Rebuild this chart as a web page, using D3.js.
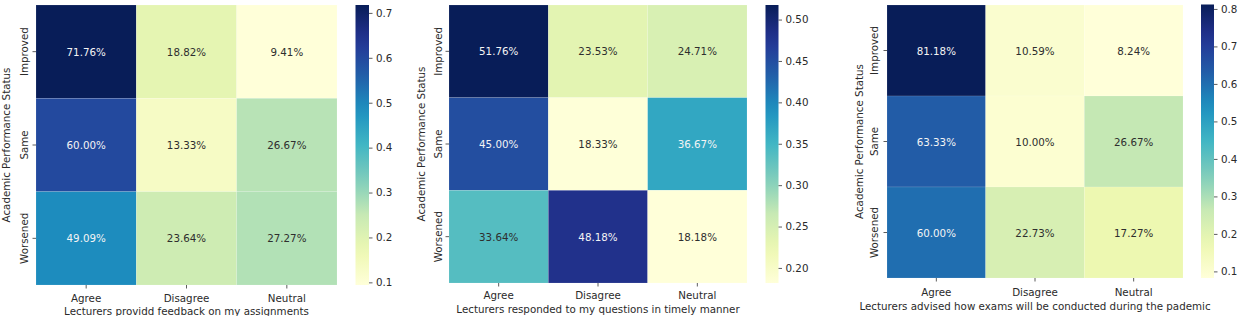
<!DOCTYPE html>
<html>
<head>
<meta charset="utf-8">
<script src="https://cdn.jsdelivr.net/npm/d3@7"></script>
<style>
  body { margin: 0; background: #fff; }
  text { font-family: "DejaVu Sans", sans-serif; }
</style>
</head>
<body>
<div id="chart"></div>
<script>
// data
const rowLabels = ["Improved", "Same", "Worsened"];
const colLabels = ["Agree", "Disagree", "Neutral"];

const feedbackPct = [[71.76, 18.82, 9.41], [60.00, 13.33, 26.67], [49.09, 23.64, 27.27]];
const respondedPct = [[51.76, 23.53, 24.71], [45.00, 18.33, 36.67], [33.64, 48.18, 18.18]];
const examsPct = [[81.18, 10.59, 8.24], [63.33, 10.00, 26.67], [60.00, 22.73, 17.27]];

const feedbackTicks = [0.1, 0.2, 0.3, 0.4, 0.5, 0.6, 0.7];
const respondedTicks = [0.20, 0.25, 0.30, 0.35, 0.40, 0.45, 0.50];
const examsTicks = [0.1, 0.2, 0.3, 0.4, 0.5, 0.6, 0.7, 0.8];

const yTitle = "Academic Performance Status";
const xTitles = [
    "Lecturers providd feedback on my assignments",
    "Lecturers responded to my questions in timely manner",
    "Lecturers advised how exams will be conducted during the pademic"
];

// matplotlib YlGnBu
const ylgnbu = ["#ffffd9", "#edf8b1", "#c7e9b4", "#7fcdbb", "#41b6c4", "#1d91c0", "#225ea8", "#253494", "#081d58"];
const cmap = d3.piecewise(d3.interpolateRgb, ylgnbu);

const width = 1243, height = 316;
const fs = '10.3px';

let svg = d3.select('#chart')
    .append('svg')
        .attr('width', width)
        .attr('height', height);

// layout for each panel (pixel positions)
const panels = [
    {vals: feedbackPct, ticks: feedbackTicks, fmt: ".1f", title: xTitles[0],
     left: 36, right: 337, top: 5, bottom: 285, cbL: 355.5, cbR: 369, cbT: 5, cbB: 285,
     ylabX: 6, ytickX: 24, xtickY: 302, xlabY: 315},
    {vals: respondedPct, ticks: respondedTicks, fmt: ".2f", title: xTitles[1],
     left: 449, right: 747, top: 5, bottom: 283, cbL: 765.5, cbR: 778.5, cbT: 5, cbB: 283,
     ylabX: 421, ytickX: 437.5, xtickY: 299, xlabY: 313},
    {vals: examsPct, ticks: examsTicks, fmt: ".1f", title: xTitles[2],
     left: 887, right: 1183, top: 5, bottom: 278, cbL: 1201, cbR: 1214, cbT: 4.5, cbB: 278,
     ylabX: 859, ytickX: 874, xtickY: 296, xlabY: 310}
];

function luminance(c) {
    const rgb = d3.rgb(c);
    const f = v => { v = v / 255; return v <= 0.03928 ? v / 12.92 : Math.pow((v + 0.055) / 1.055, 2.4); };
    return 0.2126 * f(rgb.r) + 0.7152 * f(rgb.g) + 0.0722 * f(rgb.b);
}

const defs = svg.append('defs');

panels.forEach(function(p, pi) {
    const flat = p.vals.flat().map(v => v / 100);
    const vmin = d3.min(flat), vmax = d3.max(flat);
    const colour = d3.scaleSequential(cmap).domain([vmin, vmax]);

    const xScale = d3.scaleBand().domain(colLabels).range([p.left, p.right]);
    const yScale = d3.scaleBand().domain(rowLabels).range([p.top, p.bottom]);

    let g = svg.append('g');

    const cells = [];
    p.vals.forEach((row, ri) => row.forEach((v, ci) => cells.push({r: rowLabels[ri], c: colLabels[ci], v: v / 100})));

    g.selectAll('rect.cell')
        .data(cells)
        .enter()
            .append('rect')
                .attr('class', 'cell')
                .attr('x', d => xScale(d.c))
                .attr('y', d => yScale(d.r))
                .attr('width', xScale.bandwidth())
                .attr('height', yScale.bandwidth())
                .attr('fill', d => colour(d.v))
                .attr('stroke', 'rgba(255,255,255,0.2)')
                .attr('stroke-width', 0.6);

    g.selectAll('text.annot')
        .data(cells)
        .enter()
            .append('text')
                .attr('class', 'annot')
                .attr('x', d => xScale(d.c) + xScale.bandwidth() / 2)
                .attr('y', d => yScale(d.r) + yScale.bandwidth() / 2)
                .attr('text-anchor', 'middle')
                .attr('dominant-baseline', 'central')
                .style('font-size', fs)
                .style('fill', d => luminance(colour(d.v)) > 0.408 ? '#2e2e2e' : '#f4f4f4')
                .text(d => (d.v * 100).toFixed(2) + '%');

    // x axis ticks
    let xAxis = g.append('g')
        .attr('transform', `translate(0, ${p.bottom})`)
        .call(d3.axisBottom(xScale).tickSize(3.5));
    xAxis.select('.domain').remove();
    xAxis.selectAll('line').attr('stroke', '#333').attr('stroke-width', 0.8);
    xAxis.selectAll('text').remove();
    g.selectAll('text.xtick')
        .data(colLabels)
        .enter()
            .append('text')
                .attr('class', 'xtick')
                .attr('x', d => xScale(d) + xScale.bandwidth() / 2)
                .attr('y', p.xtickY)
                .attr('text-anchor', 'middle')
                .style('font-size', fs)
                .style('fill', '#2a2a2a')
                .text(d => d);

    // y axis ticks
    let yAxis = g.append('g')
        .attr('transform', `translate(${p.left}, 0)`)
        .call(d3.axisLeft(yScale).tickSize(3.5));
    yAxis.select('.domain').remove();
    yAxis.selectAll('line').attr('stroke', '#333').attr('stroke-width', 0.8);
    yAxis.selectAll('text').remove();
    g.selectAll('text.ytick')
        .data(rowLabels)
        .enter()
            .append('text')
                .attr('class', 'ytick')
                .attr('transform', d => `translate(${p.ytickX}, ${yScale(d) + yScale.bandwidth() / 2}) rotate(-90)`)
                .attr('text-anchor', 'middle')
                .attr('dominant-baseline', 'central')
                .style('font-size', fs)
                .style('fill', '#2a2a2a')
                .text(d => d);

    // axis titles
    g.append('text')
        .attr('transform', `translate(${p.ylabX}, ${(p.top + p.bottom) / 2}) rotate(-90)`)
        .attr('text-anchor', 'middle')
        .attr('dominant-baseline', 'central')
        .style('font-size', fs)
        .style('fill', '#2a2a2a')
        .text(yTitle);

    g.append('text')
        .attr('x', (p.left + p.right) / 2)
        .attr('y', p.xlabY)
        .attr('text-anchor', 'middle')
        .style('font-size', fs)
        .style('fill', '#2a2a2a')
        .text(p.title);

    // colorbar
    const gradId = 'grad' + pi;
    const grad = defs.append('linearGradient')
        .attr('id', gradId)
        .attr('x1', 0).attr('y1', 1).attr('x2', 0).attr('y2', 0);
    d3.range(0, 1.0001, 0.05).forEach(t => {
        grad.append('stop')
            .attr('offset', t)
            .attr('stop-color', cmap(t));
    });
    g.append('rect')
        .attr('x', p.cbL)
        .attr('y', p.cbT)
        .attr('width', p.cbR - p.cbL)
        .attr('height', p.cbB - p.cbT)
        .attr('fill', `url(#${gradId})`);

    const cScale = d3.scaleLinear().domain([vmin, vmax]).range([p.cbB, p.cbT]);
    let cAxis = g.append('g')
        .attr('transform', `translate(${p.cbR}, 0)`)
        .call(d3.axisRight(cScale).tickValues(p.ticks).tickFormat(d3.format(p.fmt)).tickSize(3.5).tickPadding(3.5));
    cAxis.select('.domain').remove();
    cAxis.selectAll('line').attr('stroke', '#333').attr('stroke-width', 0.8);
    cAxis.selectAll('text')
        .style('font-size', fs)
        .style('font-family', '"DejaVu Sans", sans-serif')
        .style('fill', '#2a2a2a');
});
</script>
</body>
</html>
